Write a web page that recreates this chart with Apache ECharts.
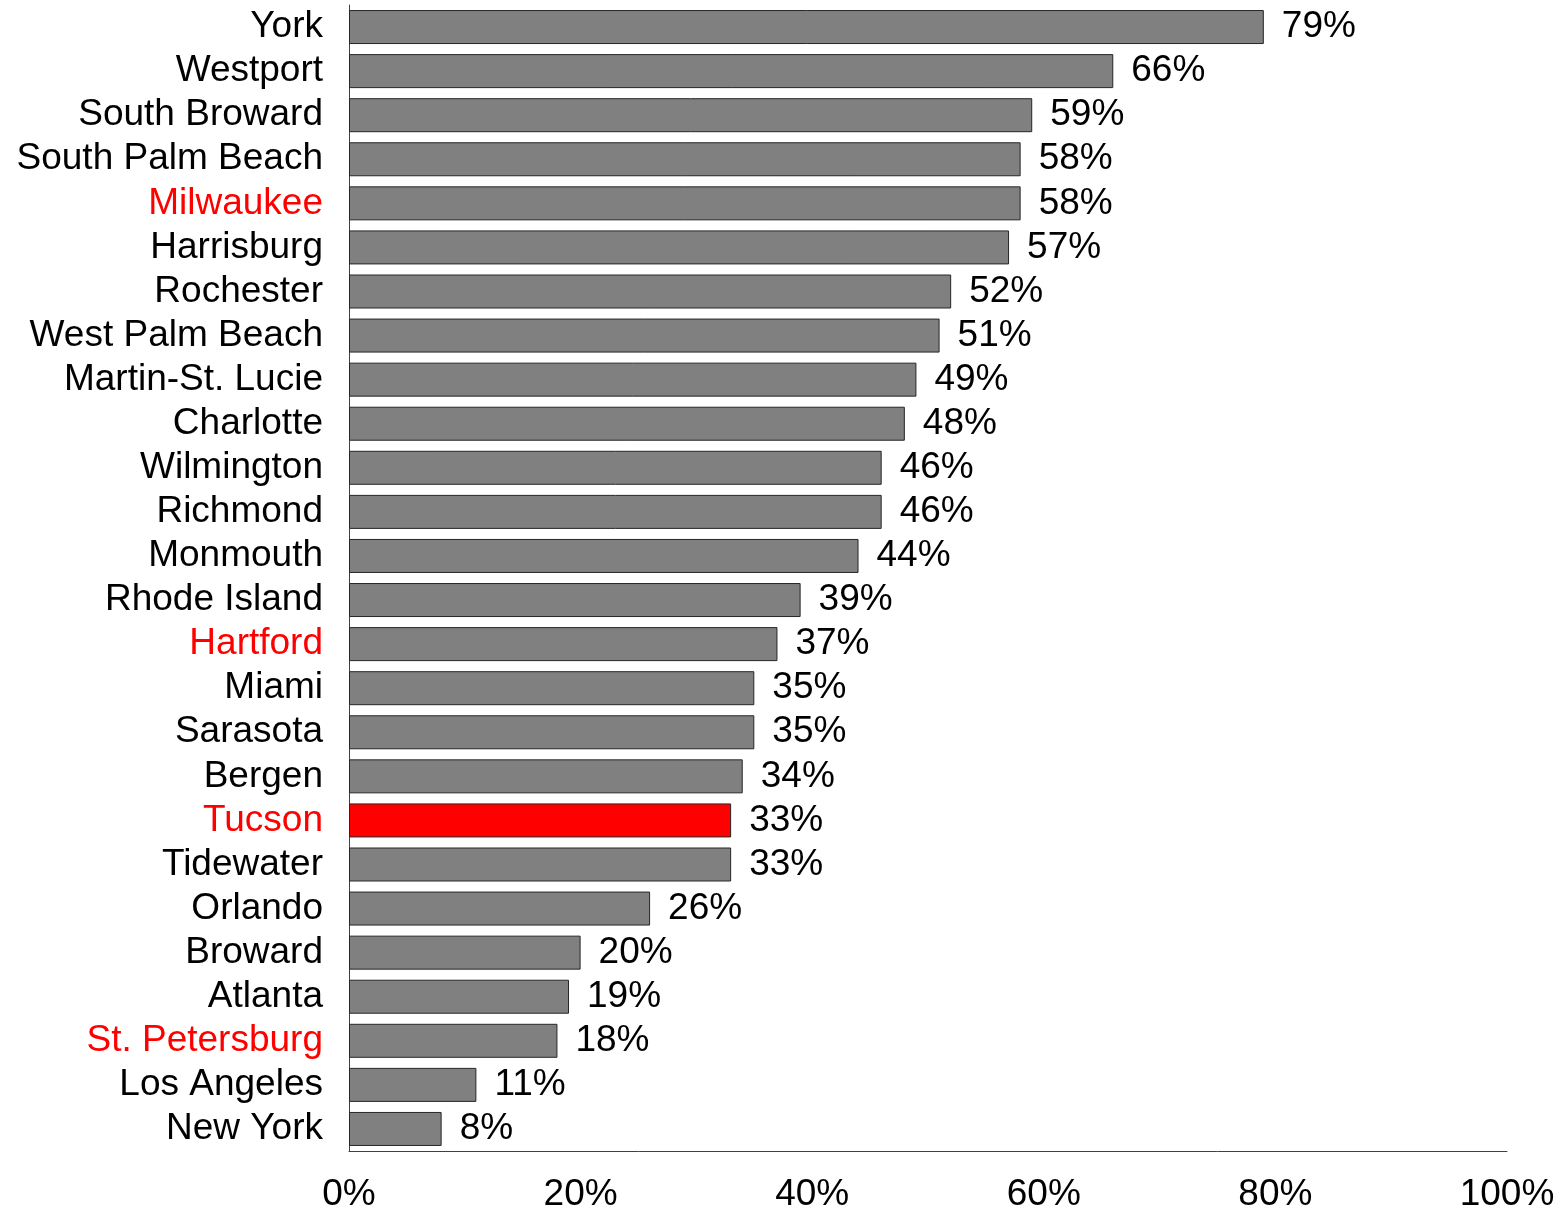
<!DOCTYPE html>
<html>
<head>
<meta charset="utf-8">
<script src="https://cdn.jsdelivr.net/npm/echarts@6/dist/echarts.min.js"></script>
<style>html,body{margin:0;padding:0;background:#fff;overflow:hidden;}#c{width:1564px;height:1213px;}</style>
</head>
<body>
<div id="c"></div>
<script>
var categories = ["York","Westport","South Broward","South Palm Beach","Milwaukee","Harrisburg","Rochester","West Palm Beach","Martin-St. Lucie","Charlotte","Wilmington","Richmond","Monmouth","Rhode Island","Hartford","Miami","Sarasota","Bergen","Tucson","Tidewater","Orlando","Broward","Atlanta","St. Petersburg","Los Angeles","New York"];
var values = [79,66,59,58,58,57,52,51,49,48,46,46,44,39,37,35,35,34,33,33,26,20,19,18,11,8];
var highlightLabels = ["Milwaukee","Hartford","Tucson","St. Petersburg"];
var highlightBar = "Tucson";
var xTicks = [0,20,40,60,80,100];

var chart = echarts.init(document.getElementById('c'), null, {renderer:'canvas'});
var font = '"Liberation Sans", Arial, sans-serif';
chart.setOption({
  animation: false,
  backgroundColor: '#ffffff',
  grid: {left: 349, right: 57, top: 5, bottom: 57, containLabel: false},
  xAxis: {
    type: 'value', min: xTicks[0], max: xTicks[xTicks.length-1], interval: 20,
    axisLine: {show: true, lineStyle: {color: '#404040', width: 1}},
    axisTick: {show: false},
    splitLine: {show: false},
    axisLabel: {fontFamily: font, fontSize: 37, color: '#000', margin: 25,
      formatter: function(v){ return v + '%'; }}
  },
  yAxis: {
    type: 'category', data: categories, inverse: true,
    axisLine: {show: true, lineStyle: {color: '#404040', width: 1}},
    axisTick: {show: false},
    axisLabel: {fontFamily: font, fontSize: 37, margin: 26, interval: 0, padding: [5,0,0,0],
      color: function(v){ return highlightLabels.indexOf(v) >= 0 ? '#ff0000' : '#000000'; }}
  },
  series: [{
    type: 'bar',
    barWidth: 34,
    data: values.map(function(v, i){
      return {value: v, itemStyle: {color: categories[i] === highlightBar ? '#ff0000' : '#808080'}};
    }),
    itemStyle: {borderColor: '#262626', borderWidth: 1},
    label: {show: true, position: 'right', distance: 18, fontFamily: font, fontSize: 37, color: '#000', padding: [5,0,0,0],
      formatter: function(p){ return p.value + '%'; }}
  }]
});
</script>
</body>
</html>
